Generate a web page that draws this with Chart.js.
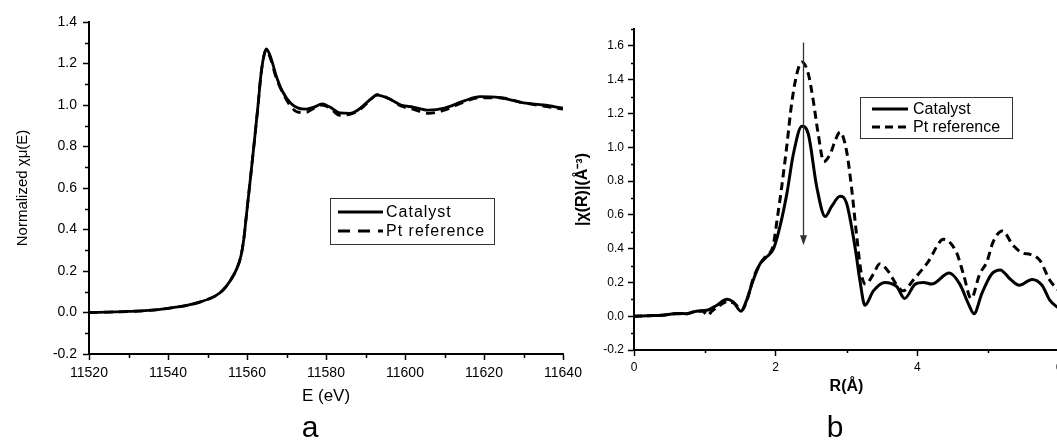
<!DOCTYPE html>
<html>
<head>
<meta charset="utf-8">
<script src="https://cdn.jsdelivr.net/npm/chart.js@4.4.1/dist/chart.umd.min.js"></script>
<style>
  html, body { margin: 0; padding: 0; background: #fff; }
  #wrap { position: relative; width: 1057px; height: 440px; overflow: hidden; background: #fff; }
  canvas { position: absolute; top: 0; }
  .panel { position: absolute; top: 412px; font-family: "Liberation Sans", Arial, sans-serif; font-size: 30px; line-height: 1; color: #000; transform: translateX(-50%); }
</style>
</head>
<body>
<div id="wrap">
  <canvas id="chartA" width="592" height="440" style="left:0"></canvas>
  <canvas id="chartB" width="505" height="440" style="left:560px"></canvas>
  <div class="panel" style="left:310px">a</div>
  <div class="panel" style="left:835px">b</div>
</div>
<script>
const FONT = '"Liberation Sans", Arial, sans-serif';
Chart.defaults.font.family = FONT;
Chart.defaults.color = '#000';

// --- panel a: XANES, normalized absorption vs energy
const xanesE = [11520, 11525, 11530, 11535, 11540, 11545, 11548, 11552, 11554, 11556, 11557.5, 11558.5, 11559.2, 11559.8, 11561, 11562, 11562.8, 11563.5, 11564.2, 11564.9, 11566, 11567.4, 11569, 11571, 11573, 11575, 11577, 11579, 11581, 11583.5, 11586, 11588, 11590.5, 11593, 11596, 11599, 11602, 11606, 11610, 11615, 11619, 11624, 11630, 11635, 11640];
const xanesCatalyst = [0, 0.002, 0.005, 0.01, 0.02, 0.035, 0.05, 0.08, 0.11, 0.16, 0.215, 0.275, 0.355, 0.46, 0.67, 0.85, 1.0, 1.14, 1.23, 1.27, 1.23, 1.14, 1.065, 1.01, 0.985, 0.98, 0.99, 1.005, 0.99, 0.962, 0.96, 0.975, 1.015, 1.048, 1.03, 1.0, 0.99, 0.975, 0.985, 1.02, 1.04, 1.035, 1.01, 1.0, 0.985];
const xanesPtRef = [0, 0.002, 0.005, 0.01, 0.02, 0.035, 0.05, 0.08, 0.11, 0.16, 0.215, 0.275, 0.355, 0.46, 0.67, 0.85, 1.0, 1.14, 1.23, 1.265, 1.22, 1.13, 1.06, 0.995, 0.965, 0.965, 0.985, 1.0, 0.985, 0.95, 0.955, 0.97, 1.01, 1.05, 1.03, 0.995, 0.98, 0.96, 0.975, 1.015, 1.035, 1.035, 1.01, 0.995, 0.98];
const xTicksA = [11520, 11540, 11560, 11580, 11600, 11620, 11640];

// --- panel b: Fourier transform magnitude vs R
const ftCatR = [0, 0.2, 0.4, 0.6, 0.75, 0.88, 1.03, 1.17, 1.31, 1.4, 1.51, 1.59, 1.68, 1.78, 1.87, 1.97, 2.06, 2.16, 2.25, 2.37, 2.46, 2.58, 2.7, 2.79, 2.91, 3.0, 3.12, 3.19, 3.26, 3.38, 3.54, 3.71, 3.82, 3.97, 4.09, 4.2, 4.45, 4.6, 4.72, 4.8, 4.91, 5.05, 5.17, 5.31, 5.44, 5.62, 5.76, 5.87, 6.0];
const ftCatalyst = [0, 0.003, 0.006, 0.016, 0.015, 0.03, 0.035, 0.065, 0.1, 0.085, 0.03, 0.095, 0.21, 0.31, 0.35, 0.40, 0.53, 0.73, 0.96, 1.125, 1.08, 0.765, 0.59, 0.65, 0.71, 0.67, 0.41, 0.21, 0.065, 0.15, 0.2, 0.175, 0.105, 0.19, 0.2, 0.19, 0.256, 0.19, 0.075, 0.015, 0.134, 0.25, 0.274, 0.22, 0.183, 0.218, 0.183, 0.095, 0.045];
const ftRefR = [0, 0.2, 0.4, 0.6, 0.75, 0.88, 0.97, 1.04, 1.1, 1.2, 1.31, 1.42, 1.52, 1.6, 1.68, 1.78, 1.87, 1.96, 2.03, 2.085, 2.155, 2.226, 2.3, 2.37, 2.46, 2.53, 2.6, 2.68, 2.77, 2.85, 2.91, 3.0, 3.07, 3.14, 3.21, 3.27, 3.38, 3.47, 3.6, 3.7, 3.8, 3.94, 4.15, 4.37, 4.55, 4.65, 4.76, 4.88, 4.98, 5.07, 5.2, 5.35, 5.48, 5.6, 5.73, 5.87, 6.0];
const ftPtRef = [0, 0.003, 0.006, 0.014, 0.015, 0.03, 0.03, 0.005, 0.03, 0.06, 0.085, 0.075, 0.035, 0.1, 0.22, 0.31, 0.36, 0.41, 0.6, 0.765, 1.0, 1.26, 1.436, 1.505, 1.436, 1.278, 1.08, 0.915, 0.96, 1.05, 1.09, 0.98, 0.765, 0.49, 0.25, 0.19, 0.25, 0.31, 0.26, 0.19, 0.15, 0.213, 0.32, 0.455, 0.38, 0.25, 0.105, 0.25, 0.32, 0.44, 0.505, 0.42, 0.375, 0.365, 0.33, 0.213, 0.15];
const xTicksB = [0, 2, 4, 6];
const yTopLabelB = 1.6;
// arrow marking the first-shell peak
const arrowR = 2.38, arrowFrom = 1.62, arrowTo = 0.42;

const seriesNames = ['Catalyst', 'Pt reference'];

function pts(xs, ys) { return xs.map((x, i) => ({ x: x, y: ys[i] })); }
function fmt1(v) { return Math.abs(v) < 1e-9 ? '0.0' : v.toFixed(1); }

// minor ticks drawn outside the axes, halfway between majors
const minorTicks = {
  id: 'minorTicks',
  afterDraw(chart, args, o) {
    const { ctx, scales: { x, y } } = chart;
    ctx.save();
    ctx.strokeStyle = '#000';
    ctx.lineWidth = 1.5;
    ctx.beginPath();
    let n = Math.round((x.max - x.min) / o.xStep);
    for (let i = 1; i < n; i += 2) {
      const px = Math.round(x.getPixelForValue(x.min + i * o.xStep)) + 0.5;
      ctx.moveTo(px, y.bottom); ctx.lineTo(px, y.bottom + o.len);
    }
    n = Math.round((y.max - y.min) / o.yStep);
    for (let i = 0; i <= n; i++) {
      const v = y.min + i * o.yStep;
      if (Math.abs(Math.round(v / (2 * o.yStep)) * 2 * o.yStep - v) < 1e-6) continue;
      const py = Math.round(y.getPixelForValue(v)) + 0.5;
      ctx.moveTo(x.left - o.len, py); ctx.lineTo(x.left, py);
    }
    ctx.stroke();
    ctx.restore();
  }
};

// boxed legend placed inside the plot
const boxLegend = {
  id: 'boxLegend',
  afterDraw(chart, args, o) {
    const ctx = chart.ctx;
    ctx.save();
    ctx.fillStyle = '#fff';
    ctx.fillRect(o.x, o.y, o.w, o.h);
    ctx.strokeStyle = '#333';
    ctx.lineWidth = 1;
    ctx.strokeRect(o.x + 0.5, o.y + 0.5, o.w, o.h);
    chart.data.datasets.forEach((ds, i) => {
      const ry = o.rows[i];
      ctx.strokeStyle = '#000';
      ctx.lineWidth = ds.borderWidth;
      ctx.setLineDash(o.dashes[i]);
      ctx.beginPath();
      ctx.moveTo(o.sx0, ry); ctx.lineTo(o.sx1, ry);
      ctx.stroke();
      ctx.setLineDash([]);
      ctx.fillStyle = '#000';
      ctx.font = o.font;
      if ('letterSpacing' in ctx) ctx.letterSpacing = o.spacing;
      ctx.textBaseline = 'middle';
      ctx.fillText(ds.label, o.tx, ry + 1);
    });
    ctx.restore();
  }
};

// vertical arrow in panel b
const peakArrow = {
  id: 'peakArrow',
  afterDatasetsDraw(chart, args, o) {
    const { ctx, scales: { x, y } } = chart;
    const px = Math.round(x.getPixelForValue(o.r)) + 0.5;
    const y0 = y.getPixelForValue(o.from), y1 = y.getPixelForValue(o.to);
    ctx.save();
    ctx.strokeStyle = '#333';
    ctx.fillStyle = '#333';
    ctx.lineWidth = 1.3;
    ctx.beginPath();
    ctx.moveTo(px, y0); ctx.lineTo(px, y1 - 8);
    ctx.stroke();
    ctx.beginPath();
    ctx.moveTo(px, y1); ctx.lineTo(px - 3.5, y1 - 10); ctx.lineTo(px + 3.5, y1 - 10);
    ctx.closePath();
    ctx.fill();
    ctx.restore();
  }
};

function axisX(min, max, tickVals, tickSize, title, titleFont, titlePad, height, pad) {
  return {
    type: 'linear', min: min, max: max,
    afterBuildTicks: s => { s.ticks = tickVals.map(v => ({ value: v })); },
    ticks: { color: '#000', font: { size: tickSize }, padding: pad, maxRotation: 0, autoSkip: false, callback: v => String(v) },
    grid: { drawOnChartArea: false, drawTicks: true, tickLength: 6, tickWidth: 1.5, tickColor: '#000' },
    border: { display: true, color: '#000', width: 2 },
    title: { display: true, text: title, color: '#000', font: titleFont, padding: { top: 0, bottom: titlePad } },
    afterFit: s => { s.height = height; s.paddingRight = 0; }
  };
}
function axisY(min, max, topLabel, tickSize, title, titleFont, titlePad, width, pad) {
  return {
    min: min, max: max,
    afterBuildTicks: s => { s.ticks = s.ticks.filter(t => t.value <= topLabel + 1e-9); },
    ticks: { stepSize: 0.2, color: '#000', font: { size: tickSize }, padding: pad, callback: v => fmt1(v) },
    grid: { drawOnChartArea: false, drawTicks: true, tickLength: 6, tickWidth: 1.5, tickColor: '#000' },
    border: { display: true, color: '#000', width: 2 },
    title: { display: true, text: title, color: '#000', font: titleFont, padding: { top: titlePad, bottom: 0 } },
    afterFit: s => { s.width = width; }
  };
}

function lineSet(label, data, dash, width) {
  return {
    label: label, data: data, borderColor: '#000', backgroundColor: '#000',
    borderWidth: width, borderDash: dash, pointRadius: 0, fill: false,
    cubicInterpolationMode: 'monotone'
  };
}

new Chart(document.getElementById('chartA'), {
  type: 'line',
  data: {
    datasets: [
      lineSet(seriesNames[0], pts(xanesE, xanesCatalyst), [], 2.8),
      lineSet(seriesNames[1], pts(xanesE, xanesPtRef), [9, 6], 2.8)
    ]
  },
  options: {
    responsive: false, animation: false, devicePixelRatio: 1,
    layout: { padding: { left: 0, top: 22, right: 29, bottom: 0 } },
    plugins: {
      legend: { display: false }, tooltip: { enabled: false },
      minorTicks: { xStep: 10, yStep: 0.1, len: 4 },
      boxLegend: { x: 330, y: 198, w: 164, h: 46, rows: [212, 231], sx0: 338, sx1: 383, tx: 386,
        dashes: [[], [12, 8]], font: '16px ' + FONT, spacing: '1px' }
    },
    scales: {
      x: axisX(11520, 11640, xTicksA, 14, 'E (eV)', { size: 17 }, 33, 86, 5),
      y: axisY(-0.2, 1.4, 1.4, 14, 'Normalized \u03C7\u03BC(E)', { size: 15 }, 14, 89, 6)
    }
  },
  plugins: [minorTicks, boxLegend]
});

new Chart(document.getElementById('chartB'), {
  type: 'line',
  data: {
    datasets: [
      lineSet(seriesNames[0], pts(ftCatR, ftCatalyst), [], 3),
      lineSet(seriesNames[1], pts(ftRefR, ftPtRef), [8, 5], 3)
    ]
  },
  options: {
    responsive: false, animation: false, devicePixelRatio: 1,
    layout: { padding: { left: 0, top: 29, right: 6, bottom: 0 } },
    plugins: {
      legend: { display: false }, tooltip: { enabled: false },
      minorTicks: { xStep: 1, yStep: 0.1, len: 3 },
      boxLegend: { x: 300, y: 97, w: 152, h: 41, rows: [109, 127], sx0: 312, sx1: 348, tx: 353,
        dashes: [[], [8, 5]], font: '16px ' + FONT, spacing: '0px' },
      peakArrow: { r: arrowR, from: arrowFrom, to: arrowTo }
    },
    scales: {
      x: axisX(0, 6, xTicksB, 12, 'R(\u00C5)', { size: 16, weight: 'bold' }, 44, 90, 4),
      y: axisY(-0.2, 1.7, yTopLabelB, 12, '|\u03C7(R)|(\u00C5\u207B\u00B3)', { size: 16, weight: 'bold' }, 13, 74, 4)
    }
  },
  plugins: [minorTicks, boxLegend, peakArrow]
});
</script>
</body>
</html>
